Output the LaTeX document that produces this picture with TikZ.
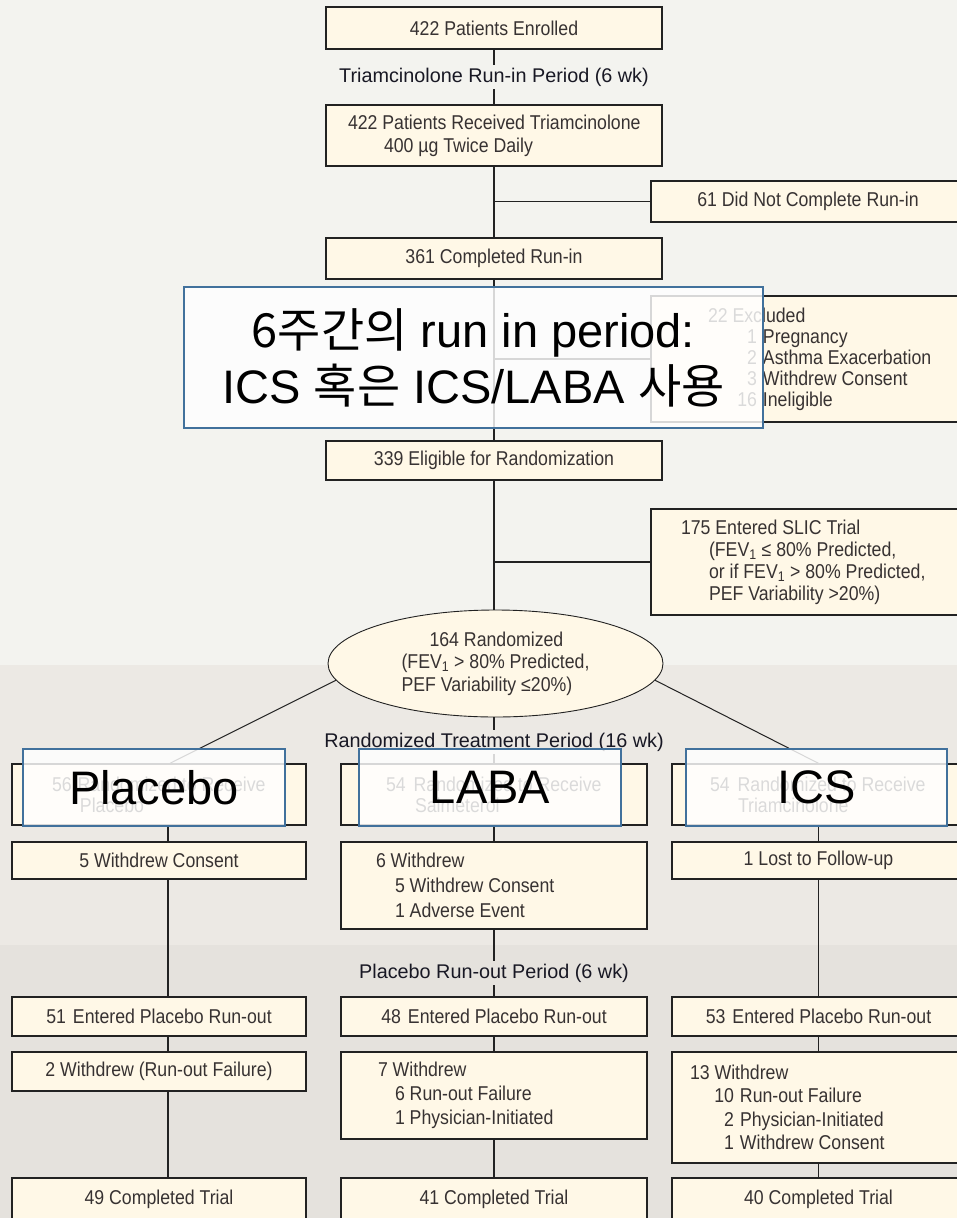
\documentclass[tikz,border=0pt]{standalone}
\usepackage{fontspec}
\usetikzlibrary{shapes.geometric}
\setmainfont{Liberation Sans}
\newfontfamily\boxf{Liberation Sans}[FakeStretch=0.885]
\newfontfamily\labf{Liberation Sans}
\newfontfamily\krf{Noto Sans CJK KR}
\newcommand\mybf[1]{\boxf\fontsize{20}{#1}\selectfont}
\newcommand\lnx[2]{\hspace*{#1pt}\mbox{\spaceskip=0pt\xspaceskip=0pt #2}}
\definecolor{bgA}{RGB}{243,243,239}
\definecolor{bgB}{RGB}{236,233,228}
\definecolor{bgC}{RGB}{229,226,221}
\definecolor{cream}{RGB}{255,248,231}
\definecolor{edge}{RGB}{34,34,34}
\definecolor{txt}{RGB}{55,50,50}
\definecolor{labc}{RGB}{24,24,36}
\definecolor{ovl}{RGB}{65,113,156}
\tikzset{
  box/.style={draw=edge, line width=1.4pt, fill=cream, text=txt, font=\mybf{22}, inner sep=0pt, align=center},
  lbox/.style={box, align=left, text width=#1},
  lab/.style={font=\labf\fontsize{19.8}{22}\selectfont, text=labc, inner sep=3pt},
  conn/.style={draw=edge, line width=1.3pt},
  diag/.style={draw=edge, line width=1pt},
  ov/.style={draw=ovl, line width=1.2pt, fill=white, fill opacity=0.82, text opacity=1, text=black, font=\labf\fontsize{47}{56}\selectfont, inner sep=0pt, align=center}
}
\begin{document}
\begin{tikzpicture}[x=1pt,y=-1pt]
\useasboundingbox (0,0) rectangle (957,1218);
\clip (0,0) rectangle (957,1218);
% background bands
\fill[bgA] (0,0) rectangle (957,665);
\fill[bgB] (0,665) rectangle (957,945);
\fill[bgC] (0,945) rectangle (957,1218);

% main column
\node[box, minimum width=336, minimum height=42] (enr) at (494,28) {422 Patients Enrolled};
\node[lab] (lab1) at (494,77) {Triamcinolone Run-in Period (6 wk)};
\node[lbox=336pt, minimum width=336, minimum height=61, font=\mybf{23}] (rec) at (494,135.5)
  {\lnx{22}{422 Patients Received Triamcinolone}\\\lnx{58}{400 µg Twice Daily}};
\node[box, minimum width=314, minimum height=41] (n61) at (808,201.5) {61 Did Not Complete Run-in};
\node[box, minimum width=336, minimum height=41] (comp) at (494,258.5) {361 Completed Run-in};
\node[lbox=314pt, minimum width=314, minimum height=126, font=\mybf{21}] (excl) at (808,359)
  {\lnx{57}{22 Excluded}\\
   \lnx{57}{\makebox[49pt][r]{1}\hspace{6pt}Pregnancy}\\
   \lnx{57}{\makebox[49pt][r]{2}\hspace{6pt}Asthma Exacerbation}\\
   \lnx{57}{\makebox[49pt][r]{3}\hspace{6pt}Withdrew Consent}\\
   \lnx{57}{\makebox[49pt][r]{16}\hspace{6pt}Ineligible}};
\node[box, minimum width=336, minimum height=39] (elig) at (494,460.5) {339 Eligible for Randomization};
\node[lbox=314pt, minimum width=314, minimum height=106, font=\mybf{22}] (slic) at (808,562)
  {\lnx{30}{175 Entered SLIC Trial}\\
   \lnx{58}{(FEV\textsubscript{1} ≤ 80\% Predicted,}\\
   \lnx{58}{or if FEV\textsubscript{1} > 80\% Predicted,}\\
   \lnx{58}{PEF Variability >20\%)}};
\node[ellipse, draw=edge, line width=0.9pt, fill=cream, text=txt, font=\mybf{22.5}, align=left,
      minimum width=335, minimum height=107, inner sep=0pt] (rand) at (495.5,663.5)
  {\hspace*{28pt}164 Randomized\\(FEV\textsubscript{1} > 80\% Predicted,\\PEF Variability ≤20\%)};
\node[lab] (lab2) at (494,742) {Randomized Treatment Period (16 wk)};

% row 1
\node[lbox=294pt, minimum width=294, minimum height=61, font=\mybf{21}] (r1p) at (159,794.5)
  {\lnx{40}{56\hspace{6pt}Randomized to Receive}\\\lnx{68}{Placebo}};
\node[lbox=306pt, minimum width=306, minimum height=61, font=\mybf{21}] (r1l) at (494,794.5)
  {\lnx{45}{54\hspace{8pt}Randomized to Receive}\\\lnx{74}{Salmeterol}};
\node[lbox=293pt, minimum width=293, minimum height=61, font=\mybf{21}] (r1i) at (818.5,794.5)
  {\lnx{38}{54\hspace{8pt}Randomized to Receive}\\\lnx{66}{Triamcinolone}};

% row 2
\node[box, minimum width=294, minimum height=37] (r2p) at (159,860.5) {5 Withdrew Consent};
\node[lbox=306pt, minimum width=306, minimum height=87, font=\mybf{25}] (r2l) at (494,885.5)
  {\lnx{35}{6 Withdrew}\\\lnx{54}{5 Withdrew Consent}\\\lnx{54}{1 Adverse Event}};
\node[box, minimum width=293, minimum height=37] (r2i) at (818.5,860.5) {1 Lost to Follow-up};

\node[lab] (lab3) at (494,973) {Placebo Run-out Period (6 wk)};

% row 3
\node[box, minimum width=294, minimum height=39] (r3p) at (159,1016.5) {51\hspace{7pt}Entered Placebo Run-out};
\node[box, minimum width=306, minimum height=39] (r3l) at (494,1016.5) {48\hspace{7pt}Entered Placebo Run-out};
\node[box, minimum width=293, minimum height=39] (r3i) at (818.5,1016.5) {53\hspace{7pt}Entered Placebo Run-out};

% row 4
\node[box, minimum width=294, minimum height=39] (r4p) at (159,1071.5) {2 Withdrew (Run-out Failure)};
\node[lbox=306pt, minimum width=306, minimum height=87, font=\mybf{24}] (r4l) at (494,1095.5)
  {\lnx{37}{7 Withdrew}\\\lnx{54}{6 Run-out Failure}\\\lnx{54}{1 Physician-Initiated}};
\node[lbox=293pt, minimum width=293, minimum height=111, font=\mybf{23.5}] (r4i) at (818.5,1107.5)
  {\lnx{18}{13 Withdrew}\\
   \lnx{30}{\makebox[32pt][r]{10}\hspace{6pt}Run-out Failure}\\
   \lnx{30}{\makebox[32pt][r]{2}\hspace{6pt}Physician-Initiated}\\
   \lnx{30}{\makebox[32pt][r]{1}\hspace{6pt}Withdrew Consent}};

% row 5
\node[box, minimum width=294, minimum height=42] (r5p) at (159,1199) {49 Completed Trial};
\node[box, minimum width=306, minimum height=42] (r5l) at (494,1199) {41 Completed Trial};
\node[box, minimum width=293, minimum height=42] (r5i) at (818.5,1199) {40 Completed Trial};

% connectors
\draw[conn] (enr) -- (lab1);
\draw[conn] (lab1) -- (rec);
\draw[conn] (rec) -- (comp);
\draw[conn] (rec.south |- n61.west) -- (n61.west);
\draw[conn] (comp) -- (elig);
\draw[conn] (comp.south |- excl.west) -- (excl.west);
\draw[conn] (elig.south) -- (elig.south |- rand.north);
\draw[conn] (elig.south |- slic.west) -- (slic.west);
\draw[conn] (rand.south -| lab2.north) -- (lab2.north);
\draw[conn] (lab2) -- (r1l);
\draw[diag] (rand.186) -- ([xshift=11pt]r1p.north);
\draw[diag] (rand.-6) -- (r1i.north);

\draw[conn] ([xshift=9pt]r1p.south) -- ([xshift=9pt]r2p.north);
\draw[conn] ([xshift=9pt]r2p.south) -- ([xshift=9pt]r3p.north);
\draw[conn] ([xshift=9pt]r3p.south) -- ([xshift=9pt]r4p.north);
\draw[conn] ([xshift=9pt]r4p.south) -- ([xshift=9pt]r5p.north);

\draw[conn] (r1l) -- (r2l);
\draw[conn] (r2l) -- (lab3);
\draw[conn] (lab3) -- (r3l);
\draw[conn] (r3l) -- (r4l);
\draw[conn] (r4l) -- (r5l);

\draw[conn] (r1i) -- (r2i);
\draw[conn] (r2i) -- (r3i);
\draw[conn] (r3i) -- (r4i);
\draw[conn] (r4i) -- (r5i);

% overlays
\node[ov, minimum width=579, minimum height=141] (ovk) at (473.5,357.5)
  {{\krf 6주간의} run in period:\\ICS {\krf 혹은} ICS/LABA {\krf 사용}};
\node[ov, minimum width=262, minimum height=77] (ovp) at (154,787.5) {Placebo};
\node[ov, minimum width=262, minimum height=77] (ovla) at (490,787.5) {LABA};
\node[ov, minimum width=261, minimum height=77] (ovi) at (816.5,787.5) {ICS};
\end{tikzpicture}
\end{document}
